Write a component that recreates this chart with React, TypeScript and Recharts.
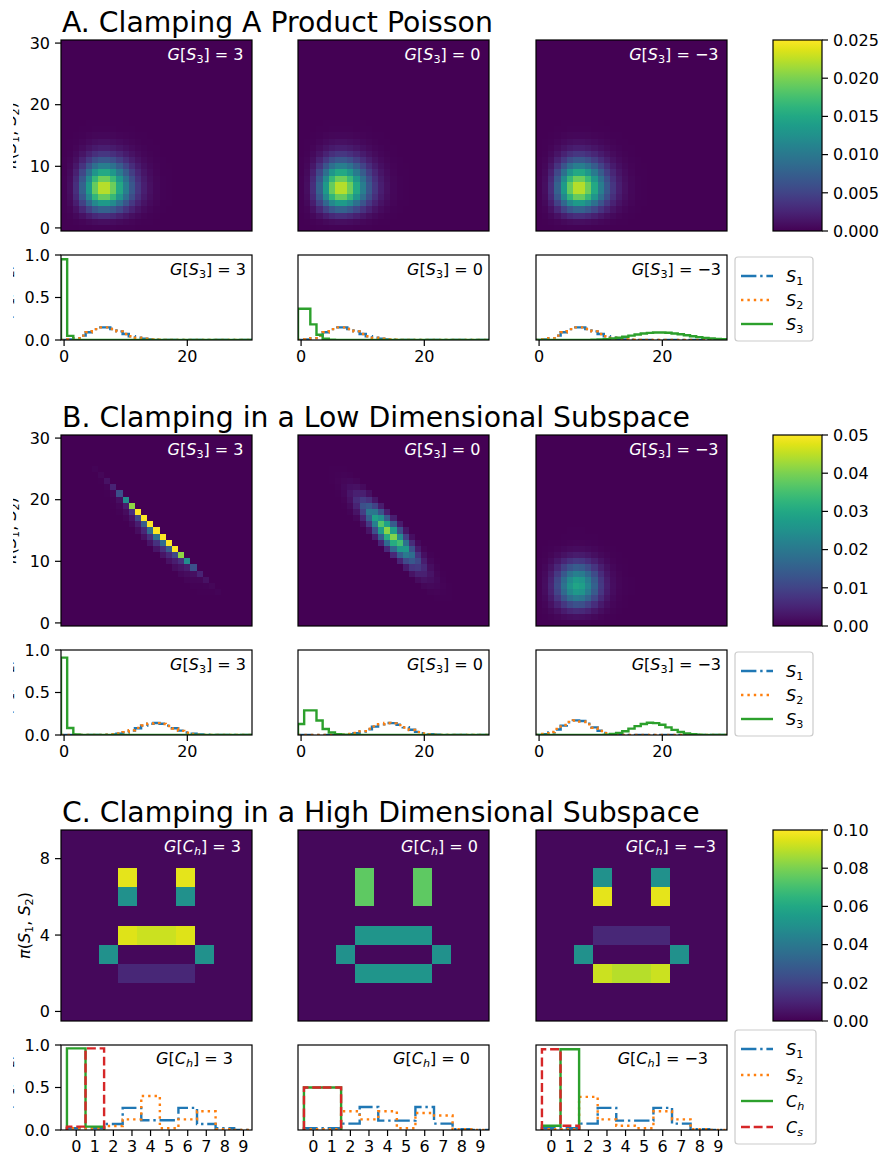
import React from 'react';
import { ScatterChart, Scatter, LineChart, Line, XAxis, YAxis } from 'recharts';

const FONT = '"DejaVu Sans", sans-serif';
const FS = 16;

const BLUE = '#1f77b4';
const ORANGE = '#ff7f0e';
const GREEN = '#2ca02c';
const RED = '#d62728';

const DASH_DOT = '15.4 3.8 2.4 3.8';
const DOTTED = '2.4 4';
const DASHED = '8.9 3.8';
const LW = 2.4;

// figure geometry (px)
const COL_X = [61, 298, 536];
const BOX = 191;
const HEAT_TOP = 40;
const LINE_TOP = 255;
const LINE_H = 85;
const SECTION_DY = [0, 395, 790];
const AXIS_W = 50;
const CBAR_X = 773;
const CBAR_W = 49;

// ---------- A. product Poisson ----------
const aS1 = [0.001, 0.006, 0.022, 0.052, 0.091, 0.128, 0.149, 0.149, 0.130, 0.101, 0.071, 0.045, 0.026, 0.014, 0.007, 0.003, 0.001, 0.0005, 0, 0, 0, 0, 0, 0, 0, 0, 0, 0, 0, 0, 0];
const aS2 = [0.001, 0.006, 0.022, 0.052, 0.091, 0.128, 0.149, 0.149, 0.130, 0.101, 0.071, 0.045, 0.026, 0.014, 0.007, 0.003, 0.001, 0.0005, 0, 0, 0, 0, 0, 0, 0, 0, 0, 0, 0, 0, 0];
const aS3Pos = [0.95, 0.048, 0.002, 0, 0, 0, 0, 0, 0, 0, 0, 0, 0, 0, 0, 0, 0, 0, 0, 0, 0, 0, 0, 0, 0, 0, 0, 0, 0, 0, 0];
const aS3Zero = [0.368, 0.368, 0.184, 0.061, 0.015, 0.003, 0.0005, 0, 0, 0, 0, 0, 0, 0, 0, 0, 0, 0, 0, 0, 0, 0, 0, 0, 0, 0, 0, 0, 0, 0, 0];
const aS3Neg = [0, 0, 0, 0, 0, 0.0001, 0.0002, 0.0005, 0.0013, 0.0029, 0.0058, 0.0106, 0.0176, 0.0271, 0.0387, 0.0516, 0.0646, 0.0760, 0.0844, 0.0888, 0.0888, 0.0846, 0.0769, 0.0669, 0.0557, 0.0446, 0.0343, 0.0254, 0.0181, 0.0125, 0.0083];

// ---------- B. low dimensional subspace ----------
const bS1Pos = [0, 0, 0, 0, 0, 0.0005, 0.001, 0.003, 0.006, 0.015, 0.03, 0.052, 0.08, 0.11, 0.133, 0.142, 0.133, 0.11, 0.08, 0.052, 0.03, 0.015, 0.006, 0.003, 0.001, 0.0005, 0, 0, 0, 0, 0];
const bS2Pos = [0, 0, 0, 0, 0, 0.0005, 0.0015, 0.004, 0.008, 0.018, 0.034, 0.056, 0.084, 0.112, 0.134, 0.14, 0.13, 0.106, 0.076, 0.048, 0.027, 0.013, 0.005, 0.002, 0.001, 0.0005, 0, 0, 0, 0, 0];
const bS3Pos = [0.91, 0.083, 0.007, 0, 0, 0, 0, 0, 0, 0, 0, 0, 0, 0, 0, 0, 0, 0, 0, 0, 0, 0, 0, 0, 0, 0, 0, 0, 0, 0, 0];

const bS1Zero = [0, 0, 0, 0, 0, 0.0005, 0.0015, 0.004, 0.01, 0.022, 0.042, 0.068, 0.098, 0.125, 0.142, 0.14, 0.12, 0.092, 0.062, 0.037, 0.02, 0.009, 0.004, 0.0015, 0.0005, 0, 0, 0, 0, 0, 0];
const bS2Zero = [0, 0, 0, 0, 0, 0.0005, 0.002, 0.005, 0.012, 0.025, 0.046, 0.073, 0.102, 0.127, 0.141, 0.137, 0.116, 0.088, 0.058, 0.034, 0.018, 0.008, 0.003, 0.001, 0.0005, 0, 0, 0, 0, 0, 0];
const bS3Zero = [0.13, 0.29, 0.29, 0.17, 0.07, 0.03, 0.01, 0.003, 0, 0, 0, 0, 0, 0, 0, 0, 0, 0, 0, 0, 0, 0, 0, 0, 0, 0, 0, 0, 0, 0, 0];

const bS1Neg = [0.002, 0.01, 0.03, 0.065, 0.11, 0.15, 0.172, 0.165, 0.133, 0.09, 0.05, 0.024, 0.01, 0.004, 0.0015, 0.0005, 0, 0, 0, 0, 0, 0, 0, 0, 0, 0, 0, 0, 0, 0, 0];
const bS2Neg = [0.002, 0.012, 0.035, 0.072, 0.118, 0.155, 0.17, 0.158, 0.125, 0.085, 0.047, 0.022, 0.009, 0.003, 0.001, 0.0005, 0, 0, 0, 0, 0, 0, 0, 0, 0, 0, 0, 0, 0, 0, 0];
const bS3Neg = [0, 0, 0, 0, 0, 0, 0, 0, 0, 0, 0.001, 0.005, 0.012, 0.025, 0.045, 0.075, 0.105, 0.13, 0.145, 0.14, 0.12, 0.09, 0.06, 0.035, 0.018, 0.008, 0.003, 0.001, 0, 0, 0];

// joint mass sits on anti-diagonal bands S1 + S2 = sum + offset
const bPosBandSum = 30;
const bPosBandOffsets = [0, -1, -2, -3];
const bPosBandWeights = [0.8, 0.13, 0.05, 0.02];
const bZeroBandSum = 29;
const bZeroBandOffsets = [-3, -2, -1, 0, 1, 2, 3];
const bZeroBandWeights = [0.04, 0.12, 0.22, 0.29, 0.2, 0.1, 0.03];

// ---------- C. high dimensional subspace ----------
// rows listed from S2 = 9 (top) down to S2 = 0
const cGridPos = [
  [0.002, 0.002, 0.002, 0.002, 0.002, 0.002, 0.002, 0.002, 0.002, 0.002],
  [0.002, 0.002, 0.002, 0.002, 0.002, 0.002, 0.002, 0.002, 0.002, 0.002],
  [0.002, 0.002, 0.002, 0.096, 0.002, 0.002, 0.096, 0.002, 0.002, 0.002],
  [0.002, 0.002, 0.002, 0.05, 0.002, 0.002, 0.05, 0.002, 0.002, 0.002],
  [0.002, 0.002, 0.002, 0.002, 0.002, 0.002, 0.002, 0.002, 0.002, 0.002],
  [0.002, 0.002, 0.002, 0.095, 0.092, 0.092, 0.095, 0.002, 0.002, 0.002],
  [0.002, 0.002, 0.05, 0.002, 0.002, 0.002, 0.002, 0.05, 0.002, 0.002],
  [0.002, 0.002, 0.002, 0.011, 0.011, 0.011, 0.011, 0.002, 0.002, 0.002],
  [0.002, 0.002, 0.002, 0.002, 0.002, 0.002, 0.002, 0.002, 0.002, 0.002],
  [0.002, 0.002, 0.002, 0.002, 0.002, 0.002, 0.002, 0.002, 0.002, 0.002],
];
const cGridZero = [
  [0.002, 0.002, 0.002, 0.002, 0.002, 0.002, 0.002, 0.002, 0.002, 0.002],
  [0.002, 0.002, 0.002, 0.002, 0.002, 0.002, 0.002, 0.002, 0.002, 0.002],
  [0.002, 0.002, 0.002, 0.075, 0.002, 0.002, 0.075, 0.002, 0.002, 0.002],
  [0.002, 0.002, 0.002, 0.075, 0.002, 0.002, 0.075, 0.002, 0.002, 0.002],
  [0.002, 0.002, 0.002, 0.002, 0.002, 0.002, 0.002, 0.002, 0.002, 0.002],
  [0.002, 0.002, 0.002, 0.052, 0.052, 0.052, 0.052, 0.002, 0.002, 0.002],
  [0.002, 0.002, 0.05, 0.002, 0.002, 0.002, 0.002, 0.05, 0.002, 0.002],
  [0.002, 0.002, 0.002, 0.052, 0.052, 0.052, 0.052, 0.002, 0.002, 0.002],
  [0.002, 0.002, 0.002, 0.002, 0.002, 0.002, 0.002, 0.002, 0.002, 0.002],
  [0.002, 0.002, 0.002, 0.002, 0.002, 0.002, 0.002, 0.002, 0.002, 0.002],
];
const cGridNeg = [
  [0.002, 0.002, 0.002, 0.002, 0.002, 0.002, 0.002, 0.002, 0.002, 0.002],
  [0.002, 0.002, 0.002, 0.002, 0.002, 0.002, 0.002, 0.002, 0.002, 0.002],
  [0.002, 0.002, 0.002, 0.05, 0.002, 0.002, 0.05, 0.002, 0.002, 0.002],
  [0.002, 0.002, 0.002, 0.096, 0.002, 0.002, 0.096, 0.002, 0.002, 0.002],
  [0.002, 0.002, 0.002, 0.002, 0.002, 0.002, 0.002, 0.002, 0.002, 0.002],
  [0.002, 0.002, 0.002, 0.011, 0.011, 0.011, 0.011, 0.002, 0.002, 0.002],
  [0.002, 0.002, 0.05, 0.002, 0.002, 0.002, 0.002, 0.05, 0.002, 0.002],
  [0.002, 0.002, 0.002, 0.092, 0.089, 0.089, 0.092, 0.002, 0.002, 0.002],
  [0.002, 0.002, 0.002, 0.002, 0.002, 0.002, 0.002, 0.002, 0.002, 0.002],
  [0.002, 0.002, 0.002, 0.002, 0.002, 0.002, 0.002, 0.002, 0.002, 0.002],
];

const cS1Pos = [0.02, 0.02, 0.07, 0.26, 0.115, 0.115, 0.26, 0.07, 0.02, 0];
const cS2Pos = [0.02, 0.02, 0.047, 0.125, 0.4, 0.02, 0.125, 0.22, 0.01, 0];
const cChPos = [0.96, 0.04];
const cCsPos = [0.04, 0.96];
const cS1Zero = [0.02, 0.02, 0.075, 0.27, 0.11, 0.11, 0.27, 0.075, 0.01, 0];
const cS2Zero = [0.01, 0.01, 0.22, 0.125, 0.22, 0.02, 0.2, 0.17, 0.01, 0];
const cChZero = [0.5, 0.5];
const cCsZero = [0.5, 0.5];
const cS1Neg = [0.02, 0.02, 0.075, 0.26, 0.11, 0.11, 0.26, 0.075, 0.01, 0];
const cS2Neg = [0.01, 0.01, 0.39, 0.125, 0.05, 0.02, 0.22, 0.125, 0.01, 0];
const cChNeg = [0.05, 0.95];
const cCsNeg = [0.95, 0.05];

const clampLabels = ['3', '0', '\u22123'];

// ---------- colour map ----------
const VIRIDIS = ['#440154', '#471365', '#482475', '#463480', '#414487', '#3b528b', '#355f8d', '#2f6c8e', '#2a788e', '#25848e', '#21918c', '#1e9c89', '#22a884', '#2fb47c', '#44bf70', '#5ec962', '#7ad151', '#9bd93c', '#bddf26', '#dfe318', '#fde725'];

const hexRgb = (h: string) => [1, 3, 5].map((k) => parseInt(h.slice(k, k + 2), 16));

function viridis(t: number) {
  const c = Math.min(1, Math.max(0, t)) * (VIRIDIS.length - 1);
  const i = Math.min(VIRIDIS.length - 2, Math.floor(c));
  const f = c - i;
  const a = hexRgb(VIRIDIS[i]);
  const b = hexRgb(VIRIDIS[i + 1]);
  const m = a.map((v, k) => Math.round(v + (b[k] - v) * f));
  return `rgb(${m[0]},${m[1]},${m[2]})`;
}

// ---------- table builders ----------
type Cell = { x: number; y: number; v: number };

function cellsFrom(n: number, value: (i: number, j: number) => number): Cell[] {
  const out: Cell[] = [];
  for (let j = n - 1; j >= 0; j--) for (let i = 0; i < n; i++) out.push({ x: i, y: j, v: value(i, j) });
  return out;
}
const productCells = (p1: number[], p2: number[]) => cellsFrom(p1.length, (i, j) => p1[i] * p2[j]);
const bandCells = (along: number[], sum: number, offsets: number[], weights: number[]) =>
  cellsFrom(along.length, (i, j) => {
    const k = offsets.indexOf(i + j - sum);
    return k < 0 ? 0 : along[i] * weights[k];
  });
const gridCells = (rows: number[][]) => cellsFrom(rows.length, (i, j) => rows[rows.length - 1 - j][i]);

// histogram outline: vertical edges at k - 0.5, down to zero at both ends
function stairs(vals: number[]) {
  const pts = [{ x: -0.5, y: 0 }];
  vals.forEach((v, k) => pts.push({ x: k - 0.5, y: v }));
  pts.push({ x: vals.length - 0.5, y: 0 });
  return pts;
}

type Series = { vals: number[]; color: string; dash?: string };

const heatA = productCells(aS1, aS2);

const sections = [
  {
    title: 'A. Clamping A Product Poisson',
    heats: [heatA, heatA, heatA],
    n: 31,
    vmax: 0.025,
    yTicks: [0, 10, 20, 30],
    cbarTicks: [0, 0.005, 0.01, 0.015, 0.02, 0.025],
    cbarDigits: 3,
    xDomain: [-0.5, 30.5],
    xTicks: [0, 20],
    lines: [
      [{ vals: aS1, color: BLUE, dash: DASH_DOT }, { vals: aS2, color: ORANGE, dash: DOTTED }, { vals: aS3Pos, color: GREEN }],
      [{ vals: aS1, color: BLUE, dash: DASH_DOT }, { vals: aS2, color: ORANGE, dash: DOTTED }, { vals: aS3Zero, color: GREEN }],
      [{ vals: aS1, color: BLUE, dash: DASH_DOT }, { vals: aS2, color: ORANGE, dash: DOTTED }, { vals: aS3Neg, color: GREEN }],
    ] as Series[][],
    clampVar: ['S', '3', false],
    legend: [['S', '1', false, BLUE, DASH_DOT], ['S', '2', false, ORANGE, DOTTED], ['S', '3', false, GREEN, undefined]],
  },
  {
    title: 'B. Clamping in a Low Dimensional Subspace',
    heats: [
      bandCells(bS1Pos, bPosBandSum, bPosBandOffsets, bPosBandWeights),
      bandCells(bS1Zero, bZeroBandSum, bZeroBandOffsets, bZeroBandWeights),
      productCells(bS1Neg, bS2Neg),
    ],
    n: 31,
    vmax: 0.05,
    yTicks: [0, 10, 20, 30],
    cbarTicks: [0, 0.01, 0.02, 0.03, 0.04, 0.05],
    cbarDigits: 2,
    xDomain: [-0.5, 30.5],
    xTicks: [0, 20],
    lines: [
      [{ vals: bS1Pos, color: BLUE, dash: DASH_DOT }, { vals: bS2Pos, color: ORANGE, dash: DOTTED }, { vals: bS3Pos, color: GREEN }],
      [{ vals: bS1Zero, color: BLUE, dash: DASH_DOT }, { vals: bS2Zero, color: ORANGE, dash: DOTTED }, { vals: bS3Zero, color: GREEN }],
      [{ vals: bS1Neg, color: BLUE, dash: DASH_DOT }, { vals: bS2Neg, color: ORANGE, dash: DOTTED }, { vals: bS3Neg, color: GREEN }],
    ] as Series[][],
    clampVar: ['S', '3', false],
    legend: [['S', '1', false, BLUE, DASH_DOT], ['S', '2', false, ORANGE, DOTTED], ['S', '3', false, GREEN, undefined]],
  },
  {
    title: 'C. Clamping in a High Dimensional Subspace',
    heats: [gridCells(cGridPos), gridCells(cGridZero), gridCells(cGridNeg)],
    n: 10,
    vmax: 0.1,
    yTicks: [0, 4, 8],
    cbarTicks: [0, 0.02, 0.04, 0.06, 0.08, 0.1],
    cbarDigits: 2,
    xDomain: [-0.82, 9.46],
    xTicks: [0, 1, 2, 3, 4, 5, 6, 7, 8, 9],
    lines: [
      [{ vals: cS1Pos, color: BLUE, dash: DASH_DOT }, { vals: cS2Pos, color: ORANGE, dash: DOTTED }, { vals: cChPos, color: GREEN }, { vals: cCsPos, color: RED, dash: DASHED }],
      [{ vals: cS1Zero, color: BLUE, dash: DASH_DOT }, { vals: cS2Zero, color: ORANGE, dash: DOTTED }, { vals: cChZero, color: GREEN }, { vals: cCsZero, color: RED, dash: DASHED }],
      [{ vals: cS1Neg, color: BLUE, dash: DASH_DOT }, { vals: cS2Neg, color: ORANGE, dash: DOTTED }, { vals: cChNeg, color: GREEN }, { vals: cCsNeg, color: RED, dash: DASHED }],
    ] as Series[][],
    clampVar: ['C', 'h', true],
    legend: [['S', '1', false, BLUE, DASH_DOT], ['S', '2', false, ORANGE, DOTTED], ['C', 'h', true, GREEN, undefined], ['C', 's', true, RED, DASHED]],
  },
];

const tickStyle = { fontSize: FS, fill: '#000', fontFamily: FONT };
const tickLineStyle = { stroke: '#000', strokeWidth: 1.2 };

function Heatmap({ left, top, n, vmax, cells, yTicks, showY }: { left: number; top: number; n: number; vmax: number; cells: Cell[]; yTicks: number[]; showY: boolean }) {
  const size = BOX / n;
  return (
    <div style={{ position: 'absolute', left: left - AXIS_W, top: top - 10 }}>
      <ScatterChart width={AXIS_W + BOX} height={BOX + 20} margin={{ top: 10, right: 0, bottom: 10, left: 0 }}>
        <XAxis type="number" dataKey="x" domain={[-0.5, n - 0.5]} allowDataOverflow hide />
        <YAxis
          type="number"
          dataKey="y"
          domain={[-0.5, n - 0.5]}
          allowDataOverflow
          ticks={yTicks}
          interval={0}
          width={AXIS_W}
          axisLine={false}
          tickSize={6}
          tickMargin={5}
          tick={showY ? tickStyle : false}
          tickLine={showY ? tickLineStyle : false}
        />
        <Scatter
          data={cells}
          isAnimationActive={false}
          shape={(p: any) => (
            <rect
              x={p.cx - size / 2}
              y={p.cy - size / 2}
              width={size + 0.7}
              height={size + 0.7}
              shapeRendering="crispEdges"
              fill={viridis(p.payload.v / vmax)}
            />
          )}
        />
      </ScatterChart>
    </div>
  );
}

function Marginals({ left, top, xDomain, xTicks, series, showY }: { left: number; top: number; xDomain: number[]; xTicks: number[]; series: Series[]; showY: boolean }) {
  return (
    <div style={{ position: 'absolute', left: left - AXIS_W, top: top - 10 }}>
      <LineChart width={AXIS_W + BOX} height={10 + LINE_H + 32} margin={{ top: 10, right: 0, bottom: 0, left: 0 }}>
        <XAxis
          type="number"
          dataKey="x"
          domain={xDomain}
          allowDataOverflow
          ticks={xTicks}
          interval={0}
          height={32}
          axisLine={false}
          tickSize={6}
          tickMargin={5}
          tick={tickStyle}
          tickLine={tickLineStyle}
        />
        <YAxis
          type="number"
          domain={[0, 1]}
          allowDataOverflow
          ticks={[0, 0.5, 1]}
          interval={0}
          tickFormatter={(v: number) => v.toFixed(1)}
          width={AXIS_W}
          axisLine={false}
          tickSize={6}
          tickMargin={5}
          tick={showY ? tickStyle : false}
          tickLine={showY ? tickLineStyle : false}
        />
        {series.map((s, k) => (
          <Line
            key={k}
            data={stairs(s.vals)}
            dataKey="y"
            type="stepAfter"
            stroke={s.color}
            strokeWidth={LW}
            strokeDasharray={s.dash}
            dot={false}
            activeDot={false}
            isAnimationActive={false}
          />
        ))}
      </LineChart>
    </div>
  );
}

// symbol with a subscript, e.g. S_1 or C_h
function Sym({ name, sub, italicSub }: { name: string; sub: string; italicSub?: boolean }) {
  return (
    <>
      <tspan fontStyle="italic">{name}</tspan>
      <tspan fontSize={11.2} dy={3.4} fontStyle={italicSub ? 'italic' : 'normal'}>{sub}</tspan>
    </>
  );
}

function ClampLabel({ x, y, sym, value, color }: { x: number; y: number; sym: any[]; value: string; color: string }) {
  return (
    <text x={x} y={y} textAnchor="end" fontSize={FS} fill={color}>
      <tspan fontStyle="italic">G</tspan>
      <tspan>[</tspan>
      <Sym name={sym[0]} sub={sym[1]} italicSub={sym[2]} />
      <tspan dy={-3.4}>{'] = ' + value}</tspan>
    </text>
  );
}

function PiLabel({ x, cy }: { x: number; cy: number }) {
  return (
    <text transform={`translate(${x},${cy}) rotate(-90)`} textAnchor="middle" fontSize={FS} fill="#000">
      <tspan fontStyle="italic">π</tspan>
      <tspan>(</tspan>
      <Sym name="S" sub="1" />
      <tspan dy={-3.4}>, </tspan>
      <Sym name="S" sub="2" />
      <tspan dy={-3.4}>)</tspan>
    </text>
  );
}

function Colorbar({ top, vmax, ticks, digits }: { top: number; vmax: number; ticks: number[]; digits: number }) {
  const y = (v: number) => top + BOX - (v / vmax) * BOX;
  const right = CBAR_X + CBAR_W;
  return (
    <g>
      <rect x={CBAR_X} y={top} width={CBAR_W} height={BOX} fill="url(#viridis-bar)" />
      <rect x={CBAR_X} y={top} width={CBAR_W} height={BOX} fill="none" stroke="#000" strokeWidth={1.2} />
      {ticks.map((t) => (
        <g key={t}>
          <line x1={right} x2={right + 6} y1={y(t)} y2={y(t)} stroke="#000" strokeWidth={1.2} />
          <text x={right + 11} y={y(t)} dy="0.36em" fontSize={FS} fill="#000">{t.toFixed(digits)}</text>
        </g>
      ))}
    </g>
  );
}

function Legend({ x, top, w, pitch, rows }: { x: number; top: number; w: number; pitch: number; rows: any[] }) {
  const h = 19 + (rows.length - 1) * pitch + 17;
  return (
    <g>
      <rect x={x} y={top} width={w} height={h} rx={3} fill="#fff" fillOpacity={0.8} stroke="#cccccc" strokeWidth={1.2} />
      {rows.map((r, k) => {
        const ry = top + 19 + k * pitch;
        return (
          <g key={k}>
            <line x1={x + 6} x2={x + 38} y1={ry} y2={ry} stroke={r[3]} strokeWidth={LW} strokeDasharray={r[4]} />
            <text x={x + 51} y={ry + 5.5} fontSize={FS} fill="#000">
              <Sym name={r[0]} sub={r[1]} italicSub={r[2]} />
            </text>
          </g>
        );
      })}
    </g>
  );
}

export default function App() {
  return (
    <div style={{ position: 'relative', width: 882, height: 1158, background: '#fff', fontFamily: FONT, overflow: 'hidden' }}>
      <style>{'body { margin: 0; }'}</style>
      {sections.map((s, si) => (
        <React.Fragment key={si}>
          {COL_X.map((cx, k) => (
            <Heatmap key={'h' + k} left={cx} top={HEAT_TOP + SECTION_DY[si]} n={s.n} vmax={s.vmax} cells={s.heats[k]} yTicks={s.yTicks} showY={k === 0} />
          ))}
          {COL_X.map((cx, k) => (
            <Marginals key={'m' + k} left={cx} top={LINE_TOP + SECTION_DY[si]} xDomain={s.xDomain} xTicks={s.xTicks} series={s.lines[k]} showY={k === 0} />
          ))}
        </React.Fragment>
      ))}
      <svg width={882} height={1158} style={{ position: 'absolute', left: 0, top: 0, pointerEvents: 'none' }} fontFamily={FONT}>
        <defs>
          <linearGradient id="viridis-bar" x1="0" y1="1" x2="0" y2="0">
            {VIRIDIS.map((c, k) => (
              <stop key={k} offset={k / (VIRIDIS.length - 1)} stopColor={c} />
            ))}
          </linearGradient>
          <clipPath id="fig-clip">
            <rect x={13} y={0} width={869} height={1158} />
          </clipPath>
        </defs>
        {sections.map((s, si) => {
          const dy = SECTION_DY[si];
          const isC = si === 2;
          return (
            <g key={si}>
              <text x={62} y={32 + dy} fontSize={28.3} fill="#000">{s.title}</text>
              {COL_X.map((cx, k) => (
                <g key={k}>
                  <rect x={cx} y={HEAT_TOP + dy} width={BOX} height={BOX} fill="none" stroke="#000" strokeWidth={1.2} />
                  <rect x={cx} y={LINE_TOP + dy} width={BOX} height={LINE_H} fill="none" stroke="#000" strokeWidth={1.2} />
                  <ClampLabel
                    x={cx + BOX - (isC ? 11 : 8.5)}
                    y={HEAT_TOP + dy + (isC ? 22 : 19.5)}
                    sym={s.clampVar}
                    value={clampLabels[k]}
                    color="#fff"
                  />
                  <ClampLabel
                    x={cx + BOX - (isC ? 19 : 6)}
                    y={LINE_TOP + dy + (isC ? 19 : 20)}
                    sym={s.clampVar}
                    value={clampLabels[k]}
                    color="#000"
                  />
                </g>
              ))}
              <Colorbar top={HEAT_TOP + dy} vmax={s.vmax} ticks={s.cbarTicks} digits={s.cbarDigits} />
              <Legend
                x={735}
                top={isC ? 1030 : 257 + dy}
                w={isC ? 81 : 78}
                pitch={isC ? 26 : 24}
                rows={s.legend}
              />
              <g clipPath="url(#fig-clip)">
                <PiLabel x={isC ? 29.5 : 16} cy={HEAT_TOP + dy + BOX / 2} />
                <PiLabel x={11} cy={LINE_TOP + dy + LINE_H / 2} />
              </g>
            </g>
          );
        })}
      </svg>
    </div>
  );
}
